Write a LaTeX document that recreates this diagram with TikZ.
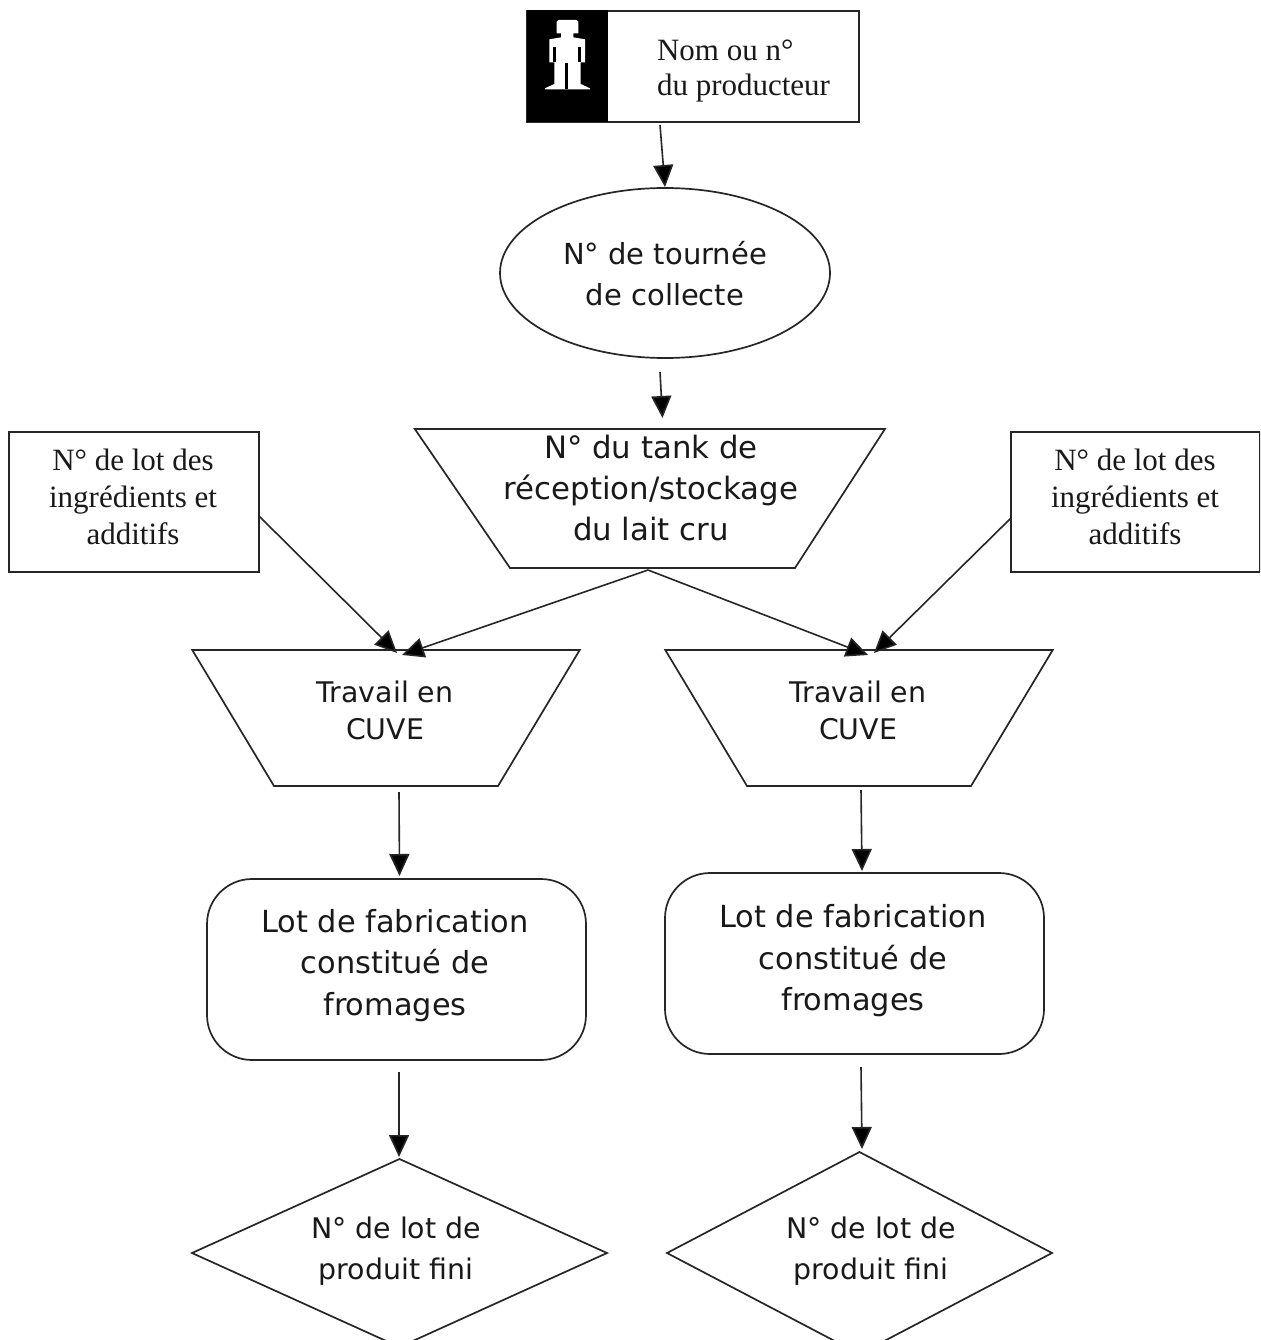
\documentclass[tikz,border=0pt]{standalone}
\usepackage{fontspec}
\setmainfont{Liberation Serif}
\newfontfamily\lucidaish{DejaVu Sans}
\usetikzlibrary{shapes.geometric,arrows.meta,calc}
\tikzset{
  every node/.style={inner sep=0pt,outer sep=0pt},
  shapeline/.style={draw=black!85,line width=1.7pt},
  serifbox/.style={shapeline,fill=white,rectangle},
  seriftext/.style={font=\fontsize{31}{37}\selectfont,align=center,text=black!90},
  sanstext/.style={align=center,text=black!90},
  sanstour/.style={sanstext,font=\lucidaish\fontsize{29}{41}\selectfont},
  sanstank/.style={sanstext,font=\lucidaish\fontsize{30.8}{41}\selectfont},
  sanscuve/.style={sanstext,font=\lucidaish\fontsize{28.4}{37}\selectfont},
  sanslot/.style={sanstext,font=\lucidaish\fontsize{30.4}{41.5}\selectfont},
  sansfin/.style={sanstext,font=\lucidaish\fontsize{28.4}{41}\selectfont},
  trap/.style={shapeline,trapezium,shape border rotate=180},
  cuvetrap/.style={trap,trapezium left angle=59,trapezium right angle=59},
  roundbox/.style={shapeline,rectangle,rounded corners=45pt,minimum width=379pt,minimum height=181pt},
  flow/.style={draw=black!85,line width=1.6pt,-{Triangle[length=22pt,width=20pt,fill=black]}},
}
\newcommand{\trapbody}[2]{\phantom{\rule{#1}{#2}}}
\begin{document}
\begin{tikzpicture}[x=1pt,y=-1pt]
\clip (0,0) rectangle (1260,1340);
\fill[white] (0,0) rectangle (1260,1340);
% producer box
\node[serifbox,minimum width=332pt,minimum height=111pt] (prod) at (693,66.5) {};
\node[rectangle,fill=black,minimum width=81pt,minimum height=112pt] (blackpart) at (567.5,66.5) {};
\begin{scope}[shift={(510,0)},x=0.3333pt,y=-0.3333pt]
\fill[white] (145,60)--(200,60)--(205,65)--(205,100)--(190,100)--(190,112)--(225,118)--(225,187)--(212,187)--(212,252)--(240,265)--(240,268)--(105,268)--(105,265)--(133,252)--(133,187)--(118,187)--(118,118)--(153,112)--(153,100)--(140,100)--(140,65)--cycle;
\fill[black] (129,140) rectangle (137,187);
\fill[black] (205,140) rectangle (213,187);
\fill[black] (165,190) rectangle (175,268);
\end{scope}
\node[seriftext,align=left,anchor=west,font=\fontsize{31}{35}\selectfont] (prodtext) at (657,71) {Nom ou n°\\du producteur};
% collection round
\node[shapeline,ellipse,minimum width=330pt,minimum height=170pt] (tour) at (665,273) {};
\node[sanstour] (tourtext) at (665,274) {N° de tournée\\de collecte};
% reception tank
\node[trap,trapezium left angle=57.1,trapezium right angle=55.6] (tank) at (652.5,498.5) {\trapbody{285pt}{139pt}};
\node[sanstank] (tanktext) at (651,488.5) {N° du tank de\\réception/stockage\\du lait cru};
% ingredients
\node[serifbox,minimum width=250pt,minimum height=140pt] (ingl) at (134,502) {};
\node[seriftext] (ingltext) at (133,497) {N° de lot des\\ingrédients et\\additifs};
\node[serifbox,minimum width=249pt,minimum height=140pt] (ingr) at (1135.5,502) {};
\node[seriftext] (ingrtext) at (1135,497) {N° de lot des\\ingrédients et\\additifs};
% vats
\node[cuvetrap] (cuvel) at (386,718) {\trapbody{224pt}{136pt}};
\node[sanscuve] (cuveltext) at (385,710) {Travail en\\CUVE};
\node[cuvetrap] (cuver) at (859,718) {\trapbody{224pt}{136pt}};
\node[sanscuve] (cuvertext) at (858,710) {Travail en\\CUVE};
% batches
\node[roundbox] (lotl) at (396.5,969.5) {};
\node[sanslot] (lotltext) at (395,965.5) {Lot de fabrication\\constitué de\\fromages};
\node[roundbox] (lotr) at (854.5,963.5) {};
\node[sanslot] (lotrtext) at (853,961) {Lot de fabrication\\constitué de\\fromages};
% finished product
\node[shapeline,diamond,minimum width=415pt,minimum height=188pt,aspect=2.2] (finl) at (399.5,1253) {};
\node[sansfin] (finltext) at (396,1251) {N° de lot de\\produit fini};
\node[shapeline,diamond,minimum width=385pt,minimum height=202pt,aspect=1.9] (finr) at (859.5,1253) {};
\node[sansfin] (finrtext) at (871,1251) {N° de lot de\\produit fini};
% connectors
\draw[flow] ([xshift=-33pt,yshift=-3pt]prod.south) -- ([yshift=1pt]tour.north);
\draw[flow] ([yshift=-14pt,xshift=-5pt]tour.south) -- ([yshift=11pt,xshift=10pt]tank.north);
\draw[flow] ([yshift=-14pt]ingl.east) -- ([xshift=11pt,yshift=-3pt]cuvel.north);
\draw[flow] ([xshift=-4.5pt,yshift=-2pt]tank.south) -- ([xshift=16pt,yshift=-5pt]cuvel.north);
\draw[flow] ([yshift=-16pt]ingr.west) -- ([xshift=15pt,yshift=-3pt]cuver.north);
\draw[flow] ([xshift=-4.5pt,yshift=-2pt]tank.south) -- ([xshift=9pt,yshift=-5pt]cuver.north);
\draw[flow] ([xshift=13pt,yshift=-6pt]cuvel.south) -- ([xshift=3pt,yshift=3pt]lotl.north);
\draw[flow] ([xshift=2pt,yshift=-4pt]cuver.south) -- ([xshift=7.5pt,yshift=2pt]lotr.north);
\draw[flow] ([xshift=2.5pt,yshift=-12pt]lotl.south) -- ([xshift=-0.5pt,yshift=2pt]finl.north);
\draw[flow] ([xshift=6.5pt,yshift=-13pt]lotr.south) -- ([xshift=2.5pt,yshift=3pt]finr.north);
\end{tikzpicture}
\end{document}
